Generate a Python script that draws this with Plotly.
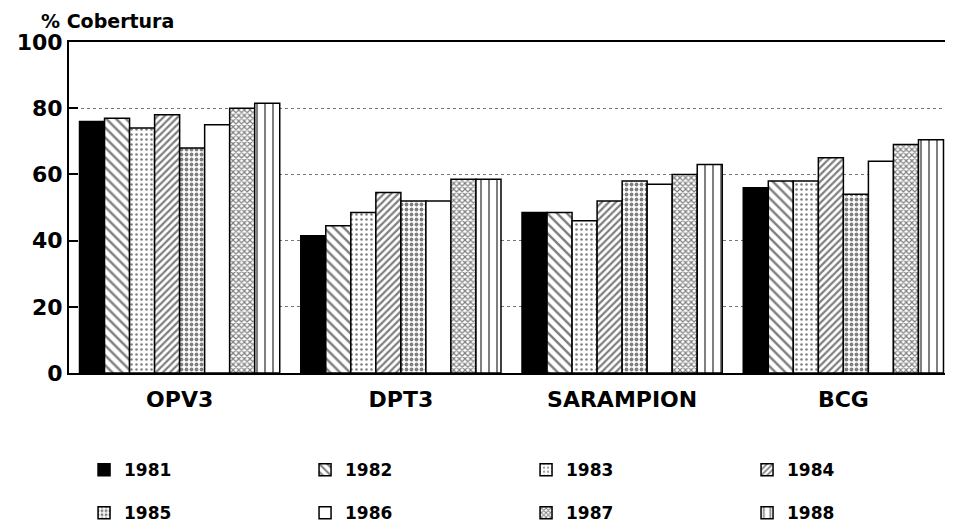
import plotly.graph_objects as go

categories = ["OPV3", "DPT3", "SARAMPION", "BCG"]
years = ["1981", "1982", "1983", "1984", "1985", "1986", "1987", "1988"]
v1981 = [76, 41.5, 48.5, 56]
v1982 = [77, 44.5, 48.5, 58]
v1983 = [74, 48.5, 46, 58]
v1984 = [78, 54.5, 52, 65]
v1985 = [68, 52, 58, 54]
v1986 = [75, 52, 57, 64]
v1987 = [80, 58.5, 60, 69]
v1988 = [81.5, 58.5, 63, 70.5]
values = [v1981, v1982, v1983, v1984, v1985, v1986, v1987, v1988]
y_ticks = [0, 20, 40, 60, 80, 100]

patterns = [
    dict(shape="", fgcolor="black", bgcolor="black"),
    dict(shape="\\", fgcolor="black", bgcolor="white", size=7, solidity=0.35),
    dict(shape=".", fgcolor="black", bgcolor="white", size=5, solidity=0.2),
    dict(shape="/", fgcolor="black", bgcolor="white", size=5, solidity=0.45),
    dict(shape=".", fgcolor="black", bgcolor="white", size=5, solidity=0.45),
    dict(shape="", fgcolor="white", bgcolor="white"),
    dict(shape="x", fgcolor="black", bgcolor="white", size=4, solidity=0.5),
    dict(shape="|", fgcolor="black", bgcolor="white", size=8, solidity=0.25),
]

FONT = "DejaVu Sans"
fig = go.Figure()
for i, (yr, vals) in enumerate(zip(years, values)):
    fig.add_trace(go.Bar(
        x=categories, y=vals, name=yr,
        marker=dict(color="black" if i == 0 else "white",
                    pattern=patterns[i],
                    line=dict(color="black", width=1.5)),
        legend="legend" if i < 4 else "legend2",
    ))

legend_common = dict(
    orientation="h", xanchor="left", yanchor="top",
    entrywidth=176, entrywidthmode="pixels",
    font=dict(family=FONT, size=17, color="black", weight="bold"),
    bgcolor="rgba(0,0,0,0)", traceorder="normal",
)

fig.update_layout(
    width=946, height=520,
    margin=dict(l=61, r=0, t=34, b=155, autoexpand=False),
    paper_bgcolor="white", plot_bgcolor="white",
    barmode="group", bargap=0.095, bargroupgap=0,
    font=dict(family=FONT, color="black"),
    legend=dict(x=0.017, y=-0.239, **legend_common),
    legend2=dict(x=0.017, y=-0.369, **legend_common),
    xaxis=dict(showline=True, linecolor="black", linewidth=2, mirror=True,
               ticks="", ticklabelstandoff=6,
               tickfont=dict(family=FONT, size=22, weight="bold")),
    yaxis=dict(range=[0, 100], tickvals=y_ticks, showline=True, linecolor="black",
               linewidth=2, showgrid=True, gridcolor="#777", griddash="dot",
               gridwidth=1, zeroline=False, ticks="inside", ticklen=9,
               tickcolor="black", tickwidth=1.5,
               tickfont=dict(family=FONT, size=22, weight="bold")),
    annotations=[dict(text="% Cobertura", xref="paper", yref="paper", x=-0.034, y=1.104,
                      xanchor="left", yanchor="top", showarrow=False,
                      font=dict(family=FONT, size=19, weight="bold"))],
)
fig.write_html("out.html")
